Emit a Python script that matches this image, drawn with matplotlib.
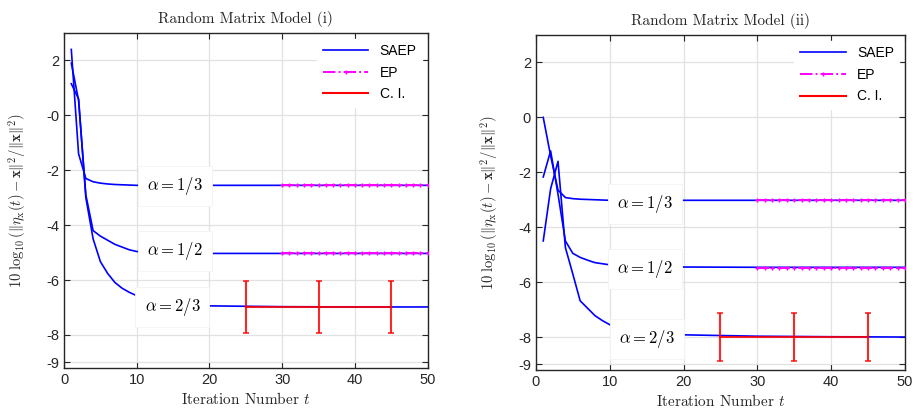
import numpy as np
import matplotlib.pyplot as plt
from matplotlib.lines import Line2D

plt.rcParams['font.family'] = ['Liberation Sans', 'DejaVu Sans']
plt.rcParams['mathtext.fontset'] = 'cm'

# Data
iters = [1, 2, 3, 4, 5, 6, 7, 8, 9, 10, 12, 15, 20, 30, 40, 50]

# Model (i)
saep_i_13 = [2.4, -1.4, -2.3, -2.42, -2.47, -2.5, -2.52, -2.53, -2.54, -2.55, -2.55, -2.55, -2.55, -2.55, -2.55, -2.55]
saep_i_12 = [1.9, 0.55, -2.9, -4.2, -4.4, -4.55, -4.7, -4.8, -4.9, -4.96, -5.0, -5.02, -5.03, -5.03, -5.03, -5.03]
saep_i_23 = [1.15, 0.6, -3.0, -4.5, -5.33, -5.76, -6.09, -6.3, -6.45, -6.57, -6.7, -6.85, -6.94, -6.97, -6.98, -6.98]
ep_i_levels = [-2.55, -5.03]
ci_i_center = [-6.98, -6.98, -6.98]
ci_i_err = [0.95, 0.95, 0.95]

# Model (ii)
saep_ii_13 = [0.0, -1.4, -2.65, -2.92, -2.96, -2.98, -2.99, -3.0, -3.01, -3.02, -3.02, -3.02, -3.02, -3.02, -3.02, -3.02]
saep_ii_12 = [-2.17, -1.22, -2.8, -4.5, -4.95, -5.1, -5.2, -5.29, -5.33, -5.37, -5.41, -5.44, -5.45, -5.46, -5.46, -5.46]
saep_ii_23 = [-4.5, -2.6, -1.6, -4.74, -5.7, -6.68, -6.95, -7.22, -7.4, -7.55, -7.68, -7.82, -7.92, -7.97, -7.99, -8.0]
ep_ii_levels = [-3.02, -5.47]
ci_ii_center = [-7.99, -7.99, -7.99]
ci_ii_err = [0.87, 0.87, 0.87]

ep_iters = np.arange(30, 51)
ci_iters = [25, 35, 45]

alpha_labels = [r'$\alpha = 1/3$', r'$\alpha = 1/2$', r'$\alpha = 2/3$']
label_pos_i = [(15.2, -2.57), (15.2, -4.93), (14.9, -6.98)]
label_pos_ii = [(14.8, -3.16), (14.8, -5.53), (15.0, -8.07)]

titles = ['Random Matrix Model (i)', 'Random Matrix Model (ii)']
yticks = [-9, -8, -6, -4, -2, 0, 2]
ytick_labels_i = ['-9', '-8', '-6', '-4', '-2', '-0', '2']
ytick_labels_ii = ['-9', '-8', '-6', '-4', '-2', '0', '2']

panels = [
    (titles[0], [saep_i_13, saep_i_12, saep_i_23], ep_i_levels, ci_i_center, ci_i_err, label_pos_i, ytick_labels_i),
    (titles[1], [saep_ii_13, saep_ii_12, saep_ii_23], ep_ii_levels, ci_ii_center, ci_ii_err, label_pos_ii, ytick_labels_ii),
]

fig = plt.figure(figsize=(9.16, 4.12), dpi=100)
axes = [fig.add_axes([0.0699, 0.107, 0.397, 0.813]),
        fig.add_axes([0.585, 0.102, 0.403, 0.813])]

dark = '#262626'
for ax, (title, saep, ep_levels, ci_c, ci_e, lpos, ylabs) in zip(axes, panels):
    for y in saep:
        ax.plot(iters, y, color='#0000ff', lw=1.2, zorder=2)
    for lvl in ep_levels:
        ax.plot(ep_iters, [lvl] * len(ep_iters), color='#ff00ff', ls='-.',
                marker='+', ms=3, mew=1.0, lw=1.4, zorder=3)
    ax.errorbar(ci_iters, ci_c, yerr=ci_e, color='red', lw=1.5, capsize=2,
                capthick=1.2, alpha=0.85, zorder=3)

    for (x, y), s in zip(lpos, alpha_labels):
        ax.text(x, y, s, ha='center', va='center', fontsize=12, zorder=5,
                bbox=dict(boxstyle='square,pad=0.55', fc='white', ec='#f3f3f3', lw=0.6))

    handles = [Line2D([], [], color='#0000ff', lw=1.2),
               Line2D([], [], color='#ff00ff', ls='-.', marker='+', ms=3, lw=1.4),
               Line2D([], [], color='red', lw=1.5)]
    leg = ax.legend(handles, ['SAEP', 'EP', 'C. I.'], loc='upper right', fontsize=10,
                    frameon=True, fancybox=False, edgecolor='white', framealpha=1,
                    handlelength=3.3, labelspacing=0.55, borderaxespad=0.4)
    leg.set_zorder(6)

    ax.set_xlim(0, 50)
    ax.set_ylim(-9.2, 3)
    ax.set_xticks([0, 10, 20, 30, 40, 50])
    ax.set_yticks(yticks)
    ax.set_yticklabels(ylabs)
    ax.grid(True, color='#e2e2e2', lw=0.9)
    ax.set_axisbelow(True)
    ax.tick_params(direction='in', top=True, right=True, length=4, width=0.8,
                   labelsize=10.5, colors=dark)
    for sp in ax.spines.values():
        sp.set_color(dark)
        sp.set_linewidth(1.0)

    ax.set_title(title, fontfamily='cmr10', fontsize=11, pad=7, color=dark)
    ax.set_xlabel(r'Iteration Number $t$', fontfamily='cmr10', fontsize=11,
                  labelpad=3, color=dark)
    ax.set_ylabel(r'$10\;\log_{10}(\|\eta_{\mathrm{x}}(t)-\mathbf{x}\|^2/\|\mathbf{x}\|^2)$',
                  fontsize=10.5, color=dark, labelpad=13)

fig.savefig('out.png', dpi=100)
